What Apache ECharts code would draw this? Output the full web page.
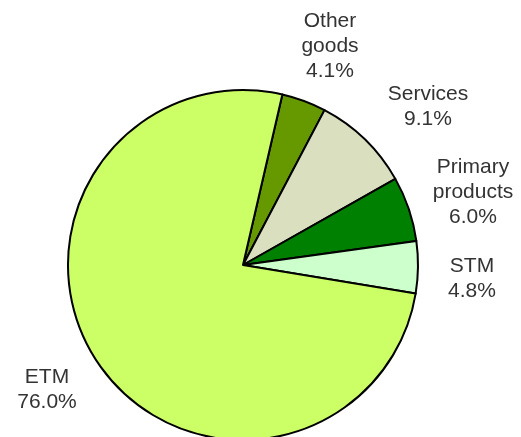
<!DOCTYPE html>
<html>
<head>
  <meta charset="utf-8">
  <title>ECharts</title>
  <script src="https://cdn.jsdelivr.net/npm/echarts@6/dist/echarts.min.js"></script>
  <style>
    html, body { margin: 0; padding: 0; background: #fff; }
  </style>
</head>
<body>
<div id="main" style="width: 521px;height:437px;"></div>
<script type="text/javascript">
  // categories and shares (%), clockwise from the top
  var categories = ['Other goods', 'Services', 'Primary products', 'STM', 'ETM'];
  var labelText = ['Other\ngoods', 'Services', 'Primary\nproducts', 'STM', 'ETM'];
  var shares = [4.1, 9.1, 6.0, 4.8, 76.0];
  var colors = ['#669900', '#dadfc0', '#008000', '#ccffcc', '#ccff66'];

  // where each label sits (centre of the text block)
  var labelPos = [[330, 46], [428, 107], [473, 192], [472, 279], [47, 390]];

  var myChart = echarts.init(document.getElementById('main'));

  var data = [];
  for (var i = 0; i < categories.length; i++) {
    data.push({
      name: categories[i],
      value: shares[i],
      itemStyle: { color: colors[i] }
    });
  }

  var option = {
    animation: false,
    series: [{
      type: 'pie',
      center: [243, 265],
      radius: 175,
      startAngle: 77,
      clockwise: true,
      itemStyle: { borderColor: '#000', borderWidth: 2 },
      label: {
        show: true,
        position: 'outside',
        formatter: function (p) {
          return labelText[p.dataIndex] + '\n' + p.value.toFixed(1) + '%';
        },
        fontFamily: 'Liberation Sans, Arial, sans-serif',
        fontSize: 21,
        lineHeight: 25,
        color: '#333',
        align: 'center',
        overflow: 'none',
        width: 140
      },
      labelLine: { show: false },
      labelLayout: function (params) {
        var p = labelPos[params.dataIndex];
        return { x: p[0], y: p[1], align: 'center', verticalAlign: 'middle' };
      },
      emphasis: { disabled: true },
      data: data
    }]
  };

  myChart.setOption(option);
</script>
</body>
</html>
